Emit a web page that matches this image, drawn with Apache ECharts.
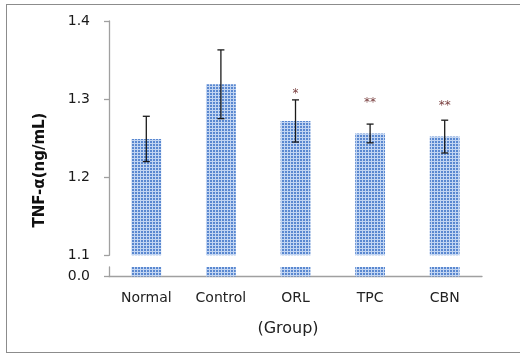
<!DOCTYPE html>
<html>
<head>
<meta charset="utf-8">
<script src="https://cdn.jsdelivr.net/npm/echarts@6/dist/echarts.min.js"></script>
<style>
html,body{margin:0;padding:0;background:#fff;overflow:hidden;width:520px;height:355px;}
#frame{position:absolute;left:6px;top:4px;width:600px;height:349px;border:1.5px solid #8c8c8c;border-right:none;box-sizing:border-box;}
#main{position:absolute;left:0;top:0;width:520px;height:355px;}
</style>
</head>
<body>
<div id="frame"></div>
<div id="main"></div>
<script>
var categories = ['Normal', 'Control', 'ORL', 'TPC', 'CBN'];
var means = [1.249, 1.319, 1.272, 1.256, 1.252];
var errors = [0.029, 0.044, 0.027, 0.012, 0.021];
var sigMarks = ['', '', '*', '**', '**'];
var sigLevels = [null, null, 1.310, 1.299, 1.295];
var upperTicks = [1.1, 1.2, 1.3, 1.4];
var lowerTicks = [0.0];

// dotted bar texture
var tile = document.createElement('canvas');
tile.width = 3; tile.height = 3;
var tc = tile.getContext('2d');
tc.fillStyle = '#c2d5f2'; tc.fillRect(0, 0, 3, 3);
tc.fillStyle = '#5a88d0'; tc.fillRect(0, 0, 2, 2);
var barFill = { image: tile, repeat: 'repeat' };

var chart = echarts.init(document.getElementById('main'), null, { renderer: 'canvas' });
var axisGray = '#a0a0a0';
var FONT = 'DejaVu Sans';

var option = {
  animation: false,
  grid: [
    { left: 109, top: 21, width: 373, height: 234.3 },
    { left: 109, top: 267, width: 373, height: 9.5 }
  ],
  xAxis: [
    { type: 'category', gridIndex: 0, data: categories, show: false },
    {
      type: 'category', gridIndex: 1, data: categories,
      axisLine: { lineStyle: { color: axisGray, width: 1.3 } },
      axisTick: { alignWithLabel: false, length: 6, lineStyle: { color: axisGray, width: 1.3 } },
      axisLabel: { margin: 15, color: '#222', fontFamily: FONT, fontSize: 14 }
    }
  ],
  yAxis: [
    {
      type: 'value', gridIndex: 0, min: 1.1, max: 1.4, interval: 0.1,
      splitLine: { show: false },
      axisLine: { show: true, lineStyle: { color: axisGray, width: 1.3 } },
      axisTick: { show: true, length: 5, customValues: upperTicks, lineStyle: { color: axisGray, width: 1.3 } },
      axisLabel: { margin: 19, color: '#1a1a1a', fontFamily: FONT, fontSize: 14, customValues: upperTicks,
        formatter: function (v) { return v.toFixed(1); } }
    },
    {
      type: 'value', gridIndex: 1, min: 0, max: 1,
      splitLine: { show: false },
      axisLine: { show: true, lineStyle: { color: axisGray, width: 1.3 } },
      axisTick: { show: true, length: 5, customValues: lowerTicks, lineStyle: { color: axisGray, width: 1.3 } },
      axisLabel: { margin: 19, color: '#1a1a1a', fontFamily: FONT, fontSize: 14, customValues: lowerTicks,
        formatter: function (v) { return v.toFixed(1); } }
    }
  ],
  graphic: [
    { type: 'text', x: 40, y: 170, rotation: Math.PI / 2,
      style: { text: 'TNF-α(ng/mL)', font: 'bold 15px ' + FONT, fill: '#111', textAlign: 'center', textVerticalAlign: 'middle' } },
    { type: 'text', x: 288, y: 329,
      style: { text: '(Group)', font: '16px ' + FONT, fill: '#222', textAlign: 'center', textVerticalAlign: 'middle' } }
  ],
  series: [
    { type: 'bar', xAxisIndex: 0, yAxisIndex: 0, data: means, barWidth: '40%',
      itemStyle: { color: barFill }, clip: true },
    { type: 'bar', xAxisIndex: 1, yAxisIndex: 1, data: means, barWidth: '40%',
      itemStyle: { color: barFill }, clip: true },
    {
      type: 'custom', xAxisIndex: 0, yAxisIndex: 0,
      data: means.map(function (m, i) { return [i, m - errors[i], m + errors[i]]; }),
      renderItem: function (params, api) {
        var lo = api.coord([api.value(0), api.value(1)]);
        var hi = api.coord([api.value(0), api.value(2)]);
        var x = lo[0], hw = 3.5;
        var st = { stroke: '#1a1a1a', lineWidth: 1.3 };
        return { type: 'group', children: [
          { type: 'line', shape: { x1: x, y1: lo[1], x2: x, y2: hi[1] }, style: st },
          { type: 'line', shape: { x1: x - hw, y1: lo[1], x2: x + hw, y2: lo[1] }, style: st },
          { type: 'line', shape: { x1: x - hw, y1: hi[1], x2: x + hw, y2: hi[1] }, style: st }
        ] };
      },
      z: 5
    },
    {
      type: 'custom', xAxisIndex: 0, yAxisIndex: 0,
      data: sigLevels.map(function (v, i) { return [i, v == null ? NaN : v, sigMarks[i]]; }),
      renderItem: function (params, api) {
        var lvl = api.value(1);
        if (isNaN(lvl)) return null;
        var p = api.coord([api.value(0), lvl]);
        return { type: 'text', x: p[0], y: p[1] + 3,
          style: { text: sigMarks[params.dataIndex], font: '12px ' + FONT, fill: '#7a4040', textAlign: 'center', textVerticalAlign: 'middle' } };
      },
      z: 6
    }
  ]
};
chart.setOption(option);
</script>
</body>
</html>
